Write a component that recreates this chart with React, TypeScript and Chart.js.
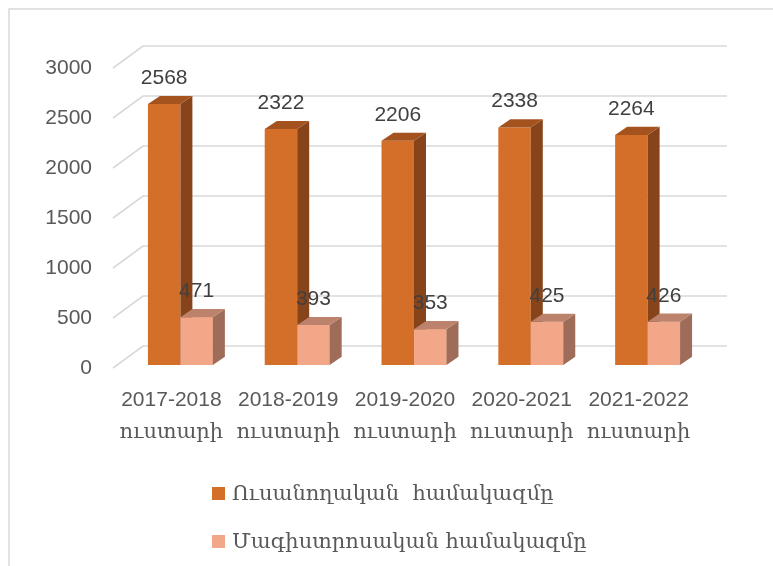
import React, { useEffect, useRef } from "react";
import { Chart, registerables } from "chart.js";

Chart.register(...registerables);

const years = ["2017-2018", "2018-2019", "2019-2020", "2020-2021", "2021-2022"];
const yearSuffix = "ուստարի";
const seriesNames = ["Ուսանողական  համակազմը", "Մագիստրոսական համակազմը"];
const undergrad = [2568, 2322, 2206, 2338, 2264];
const masters = [471, 393, 353, 425, 426];
const yTicks = [0, 500, 1000, 1500, 2000, 2500, 3000];

const FRONT = ["#D46F2A", "#F2A789"];
const TOP = ["#A4531F", "#BD826B"];
const SIDE = ["#87441A", "#9E6C59"];

const NUM_FONT = '"Liberation Sans", "DejaVu Serif", sans-serif';
const ARM_FONT = '"DejaVu Serif", serif';

const DX = 12, DY = -8; // bar depth
const WX = 30, WY = -22; // wall depth
const SHIFT_X = 9, SHIFT_Y = -3, SCALE_Y = 1.016;

function drawFaces(ctx: any, el: any, i: number) {
  const { x, y, base, width } = el.getProps(["x", "y", "base", "width"], true);
  const l = x - width / 2, r = x + width / 2;
  ctx.fillStyle = SIDE[i];
  ctx.beginPath();
  ctx.moveTo(r, y);
  ctx.lineTo(r + DX, y + DY);
  ctx.lineTo(r + DX, base + DY);
  ctx.lineTo(r, base);
  ctx.closePath();
  ctx.fill();
  ctx.fillStyle = TOP[i];
  ctx.beginPath();
  ctx.moveTo(l, y);
  ctx.lineTo(l + DX, y + DY);
  ctx.lineTo(r + DX, y + DY);
  ctx.lineTo(r, y);
  ctx.closePath();
  ctx.fill();
}

export default function App() {
  const ref = useRef<HTMLCanvasElement | null>(null);

  useEffect(() => {
    const canvas = ref.current;
    if (!canvas) return;

    const threeD = {
      id: "threeD",
      beforeDraw(chart: any) {
        const ctx = chart.ctx;
        ctx.save();
        ctx.fillStyle = "#ffffff";
        ctx.fillRect(0, 0, chart.width, chart.height);
        ctx.strokeStyle = "#D9D9D9";
        ctx.lineWidth = 1.5;
        ctx.strokeRect(9, 9, 1000, 1000);
        ctx.restore();
      },
      beforeDatasetsDraw(chart: any) {
        const ctx = chart.ctx;
        const ys = chart.scales.y;
        const ca = chart.chartArea;
        ctx.save();
        ctx.strokeStyle = "#D9D9D9";
        ctx.lineWidth = 1.6;
        for (const t of ys.ticks) {
          const y = ys.getPixelForValue(t.value);
          ctx.beginPath();
          ctx.moveTo(ca.left, y);
          ctx.lineTo(ca.left + WX, y + WY);
          ctx.lineTo(ca.right + WX, y + WY);
          ctx.stroke();
        }
        ctx.restore();
        const base = ys.getPixelForValue(0);
        ctx.save();
        ctx.translate(SHIFT_X, SHIFT_Y);
        ctx.translate(0, base);
        ctx.scale(1, SCALE_Y);
        ctx.translate(0, -base);
      },
      afterDatasetDraw(chart: any, args: any) {
        // dataset 1 is drawn first, dataset 0 last; finish both once dataset 0 is done
        if (args.index !== 0) return;
        const ctx = chart.ctx;
        const m0 = chart.getDatasetMeta(0);
        const m1 = chart.getDatasetMeta(1);
        for (const el of m0.data) drawFaces(ctx, el, 0);
        for (const el of m1.data) {
          el.draw(ctx, chart.chartArea);
          drawFaces(ctx, el, 1);
        }
      },
      afterDatasetsDraw(chart: any) {
        const ctx = chart.ctx;
        ctx.restore();
        const base = chart.scales.y.getPixelForValue(0);
        ctx.save();
        ctx.fillStyle = "#404040";
        ctx.font = `21px ${NUM_FONT}`;
        ctx.textAlign = "center";
        ctx.textBaseline = "middle";
        chart.data.datasets.forEach((ds: any, di: number) => {
          const meta = chart.getDatasetMeta(di);
          meta.data.forEach((el: any, j: number) => {
            const { x, y } = el.getProps(["x", "y"], true);
            const ty = base + (y - base) * SCALE_Y + SHIFT_Y;
            ctx.fillText(String(ds.data[j]), x + SHIFT_X, ty - 26);
          });
        });
        ctx.restore();
      },
      afterDraw(chart: any) {
        const ctx = chart.ctx;
        ctx.save();
        ctx.font = `21px ${ARM_FONT}`;
        ctx.textBaseline = "alphabetic";
        ctx.textAlign = "left";
        const rows = [500, 548];
        seriesNames.forEach((name, i) => {
          ctx.fillStyle = FRONT[i];
          ctx.fillRect(212, rows[i] - 13, 13, 13);
          ctx.fillStyle = "#595959";
          ctx.fillText(name, 232, rows[i]);
        });
        ctx.restore();
      },
    };

    const chart = new Chart(canvas, {
      type: "bar",
      data: {
        labels: years.map((y) => [y, yearSuffix]),
        datasets: [
          {
            label: seriesNames[0],
            data: undergrad,
            backgroundColor: FRONT[0],
            borderWidth: 0,
            categoryPercentage: 0.556,
            barPercentage: 1,
          },
          {
            label: seriesNames[1],
            data: masters,
            backgroundColor: FRONT[1],
            borderWidth: 0,
            categoryPercentage: 0.556,
            barPercentage: 1,
          },
        ],
      },
      options: {
        responsive: false,
        animation: false,
        layout: { padding: { left: 0, top: 68, right: 76, bottom: 0 } },
        plugins: {
          legend: { display: false },
          tooltip: { enabled: false },
        },
        scales: {
          x: {
            grid: { display: false, drawTicks: false },
            border: { display: false },
            ticks: {
              color: "#595959",
              padding: 16,
              maxRotation: 0,
              autoSkip: false,
              font: { family: NUM_FONT, size: 21, lineHeight: "32px" },
            },
            afterFit(scale: any) {
              scale.height = 198;
            },
          },
          y: {
            min: yTicks[0],
            max: yTicks[yTicks.length - 1],
            grid: { display: false, drawTicks: false },
            border: { display: false },
            ticks: {
              stepSize: 500,
              color: "#595959",
              padding: 21,
              font: { family: NUM_FONT, size: 21 },
              callback: (v: any) => String(v),
            },
            afterFit(scale: any) {
              scale.width = 113;
            },
          },
        },
      },
      plugins: [threeD],
    } as any);

    return () => chart.destroy();
  }, []);

  return (
    <div style={{ position: "fixed", left: 0, top: 0, width: 773, height: 566, background: "#fff" }}>
      <canvas ref={ref} width={773} height={566} style={{ display: "block" }} />
    </div>
  );
}
